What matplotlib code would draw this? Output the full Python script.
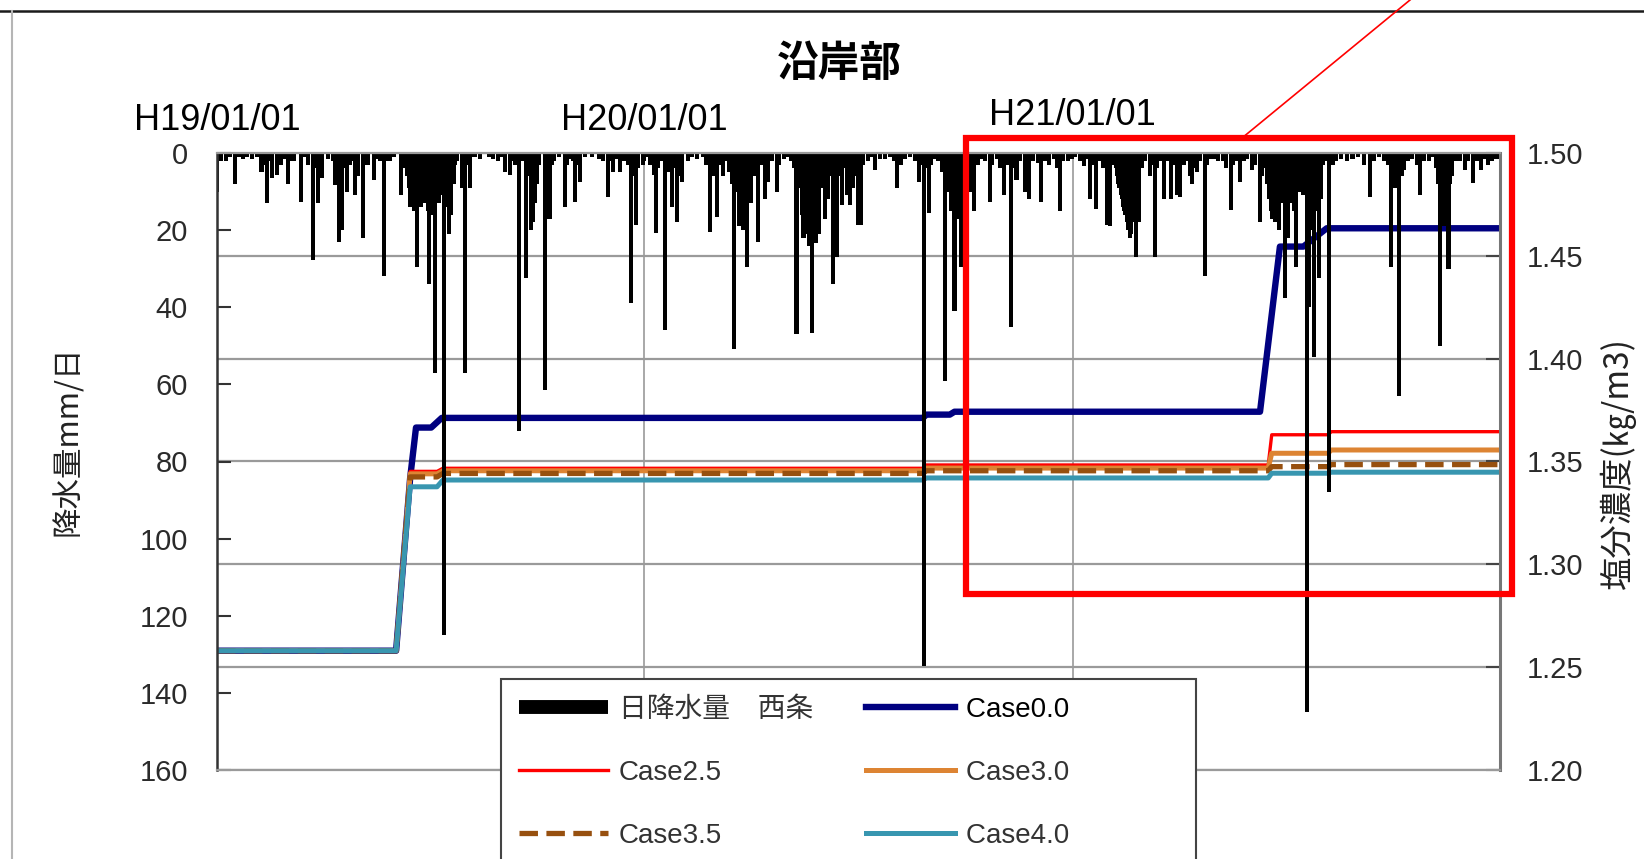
import numpy as np
import matplotlib.pyplot as plt
import matplotlib.dates as mdates
from matplotlib.lines import Line2D
from matplotlib.patches import Rectangle

plt.rcParams['font.family'] = ['Liberation Sans', 'Noto Sans CJK JP', 'DejaVu Sans']

# 日降水量 西条: (day of year, mm/day)
rain_2007 = [
    (1, 10), (4, 2), (9, 2), (12, 1), (16, 8), (20, 1), (23, 1.5), (27, 1), (31, 1.5), (35, 1),
    (39, 5), (41, 3), (44, 13), (46, 2), (48, 6.5), (52, 5.7), (56, 3), (59, 1.5), (62, 8), (64, 2),
    (67, 2), (73, 12.6), (76, 1), (79, 3), (83, 27.8), (85, 4), (87, 13), (89, 2), (91, 6.6), (96, 1.5),
    (100, 2), (102, 8.3), (105, 23), (108, 20), (109, 4), (112, 10), (115, 3), (117, 2), (119, 11), (121, 6),
    (126, 22), (128, 3), (130, 3), (135, 7), (137, 1.5), (140, 2), (144, 32), (146, 2), (149, 2), (152, 1),
    (158, 11), (159, 3), (161, 4), (163, 6), (164, 6), (165, 9), (166, 14), (167, 8), (168, 12), (169, 15),
    (170, 10), (171, 5), (172, 29.5), (173, 12), (174, 8), (175, 14), (176, 10), (177, 11), (178, 9), (179, 13),
    (180, 7), (181, 15), (182, 34), (183, 12), (184, 9), (185, 16), (186, 11), (187, 57), (188, 13), (189, 10),
    (190, 8), (191, 13), (192, 6), (193, 11), (194, 9), (195, 125), (196, 14), (197, 10), (198, 7), (199, 21),
    (200, 12), (201, 16), (202, 6), (203, 8), (204, 3), (206, 2), (210, 9), (213, 57), (215, 3), (217, 9),
    (221, 1), (226, 1.5), (233, 1), (237, 1.5), (241, 2), (244, 1), (247, 5), (251, 5.7), (254, 2), (256, 3),
    (259, 72), (261, 2), (263, 2), (265, 32.5), (267, 6), (269, 20), (270, 15), (271, 18), (272, 12), (273, 13),
    (274, 8), (276, 3), (281, 61.5), (283, 4), (285, 17), (287, 3), (289, 2), (293, 1), (298, 14), (300, 3),
    (302, 1.5), (305, 2), (307, 12.6), (309, 3), (311, 7.4), (315, 1), (321, 1), (327, 1.5), (331, 2), (335, 11.3),
    (337, 2), (339, 5), (342, 1.5), (345, 5), (349, 2), (352, 3), (355, 39), (357, 6), (359, 18.7), (361, 4),
    (365, 3),
]
rain_2008 = [
    (1, 2), (4, 1), (6, 3), (9, 5.7), (11, 20.8), (13, 4), (16, 2), (19, 46), (21, 5), (23, 3),
    (25, 14), (27, 4), (29, 18), (31, 6), (33, 7.4), (38, 2), (42, 1), (46, 1.5), (51, 1), (54, 3),
    (57, 20.4), (59, 4), (61, 6), (63, 16.5), (65, 3), (68, 6), (70, 2), (73, 5), (76, 8), (78, 50.7),
    (80, 10), (82, 19), (84, 7), (85, 20), (87, 9), (89, 29.5), (92, 13), (94, 4), (96, 6), (98, 23),
    (101, 3), (104, 11.8), (107, 7.4), (110, 2), (114, 10), (116, 3), (120, 1.5), (123, 1), (126, 2), (129, 4),
    (131, 47), (133, 5), (135, 9), (136, 16), (137, 22), (138, 12), (139, 18), (140, 21), (141, 9), (142, 24),
    (143, 15), (144, 46.8), (145, 11), (146, 17), (147, 8), (148, 23.4), (149, 6), (150, 21), (151, 7), (152, 9),
    (153, 4), (155, 17), (156, 5), (158, 12), (160, 6), (162, 34), (164, 5), (166, 27), (168, 6), (170, 13.5),
    (172, 4), (174, 11), (176, 5), (177, 13.5), (178, 8), (179, 9), (181, 6), (184, 18.7), (186, 18.7), (188, 3),
    (192, 2), (195, 1), (198, 4.4), (202, 1.5), (207, 1.5), (211, 1), (214, 2), (217, 9), (220, 3), (224, 1.5),
    (228, 1), (232, 2), (236, 7.4), (238, 3), (240, 133), (242, 4), (244, 15.6), (246, 3), (249, 1.5), (252, 2),
    (255, 5), (258, 59), (260, 10), (261, 8), (263, 15), (264, 9), (266, 41), (267, 12), (268, 17), (270, 8),
    (272, 29.5), (274, 12), (276, 20), (278, 6), (280, 10), (283, 15), (286, 3), (289, 1.5), (292, 2), (296, 12.6),
    (298, 3), (302, 1.5), (305, 4), (308, 11), (311, 3), (314, 45), (316, 4), (319, 7), (322, 2), (326, 10),
    (328, 3), (330, 12), (333, 2), (337, 2.5), (340, 12.6), (343, 2), (347, 3), (351, 1.5), (354, 4), (356, 15),
    (359, 2), (363, 2), (366, 1.5),
]
rain_2009 = [
    (3, 1), (7, 2), (11, 3.5), (14, 1.5), (16, 11.8), (18, 3), (21, 14.4), (24, 2), (27, 4), (30, 18.7),
    (32, 6), (33, 19), (35, 3), (38, 4), (39, 6), (40, 8), (41, 9), (42, 11), (43, 12), (44, 14),
    (45, 15), (46, 16), (47, 18), (48, 20), (49, 19), (50, 22), (51, 21), (52, 18), (53, 13), (55, 27),
    (56, 8), (58, 17.8), (60, 4), (63, 2), (67, 6), (69, 3), (71, 27), (73, 4), (76, 2), (79, 11.8),
    (82, 2), (85, 11.8), (88, 3), (90, 11), (93, 11.3), (96, 3), (99, 2), (101, 6), (103, 8), (105, 4),
    (107, 5), (110, 2), (114, 32), (116, 3), (119, 1.5), (122, 1.5), (125, 2), (129, 2), (132, 4), (136, 14.8),
    (138, 3), (141, 2), (144, 7.4), (147, 2), (150, 1.5), (154, 4.4), (157, 3), (161, 18), (163, 6), (165, 4),
    (167, 8), (169, 12), (170, 15), (171, 17), (172, 10), (173, 16), (174, 18), (175, 14), (176, 17), (177, 20),
    (178, 9), (180, 13), (182, 37.7), (183, 12), (185, 22), (186, 8), (188, 13), (190, 15), (192, 29.5), (193, 9),
    (195, 10), (196, 6), (197, 9), (198, 11), (199, 10), (200, 8), (201, 145), (202, 12), (203, 40), (204, 20),
    (205, 14), (206, 18), (207, 53), (208, 12), (209, 15), (210, 9), (211, 32.5), (212, 8), (213, 12), (215, 3),
    (217, 2), (220, 88), (223, 3), (226, 2), (230, 1.5), (235, 2), (240, 1.5), (245, 1), (250, 3), (255, 11.3),
    (258, 2), (263, 1), (267, 2), (270, 3), (273, 29.5), (275, 4), (276, 9), (278, 3), (280, 63), (282, 6),
    (284, 4.4), (287, 2), (291, 1.5), (295, 3), (298, 11), (301, 2), (305, 2), (308, 1), (311, 4), (313, 8),
    (315, 50), (316, 10), (318, 19), (320, 6), (322, 30), (323, 8), (325, 6), (328, 2), (332, 2), (336, 4.4),
    (339, 2), (343, 7.9), (346, 2), (350, 4.4), (353, 1.5), (356, 3), (359, 2), (363, 1.5),
]

# 塩分濃度 (kg/m3) breakpoints, days counted from 2007-01-01
case00_day = [0, 153, 165, 170, 183, 192, 603, 606, 626, 630, 891, 908, 928, 948, 1096]
case00_val = [1.258, 1.258, 1.342, 1.3665, 1.3665, 1.3712, 1.3712, 1.3728, 1.3728, 1.3742,
              1.3742, 1.4545, 1.4545, 1.4634, 1.4634]
step_day = [0, 153, 165, 188, 193, 603, 606, 898, 901, 949, 952, 1096]
case25_val = [1.258, 1.258, 1.3452, 1.3452, 1.3467, 1.3467, 1.3483, 1.3483, 1.3630, 1.3630, 1.3645, 1.3645]
case30_val = [1.258, 1.258, 1.3440, 1.3440, 1.3455, 1.3455, 1.3468, 1.3468, 1.3540, 1.3540, 1.3556, 1.3556]
case35_val = [1.258, 1.258, 1.3425, 1.3425, 1.3442, 1.3442, 1.3455, 1.3455, 1.3475, 1.3475, 1.3485, 1.3485]
case40_val = [1.258, 1.258, 1.3377, 1.3377, 1.3410, 1.3410, 1.3420, 1.3420, 1.3443, 1.3443, 1.3448, 1.3448]

year_ticks = ['2007-01-01', '2008-01-01', '2009-01-01', '2010-01-01']
year_labels = ['H19/01/01', 'H20/01/01', 'H21/01/01']
rain_ticks = [0, 20, 40, 60, 80, 100, 120, 140, 160]
salt_ticks = [1.20, 1.25, 1.30, 1.35, 1.40, 1.45, 1.50]

W, H = 1644, 859


def rain_series(year, pairs):
    start = np.datetime64(f'{year}-01-01')
    doy = np.array([p[0] for p in pairs])
    mm = np.array([p[1] for p in pairs], dtype=float)
    return mdates.date2num(start + (doy - 1).astype('timedelta64[D]')), mm


t0 = mdates.date2num(np.datetime64('2007-01-01'))
years = mdates.date2num(np.array(year_ticks, dtype='datetime64[D]'))

fig = plt.figure(figsize=(W / 100, H / 100), dpi=100)
fig.patch.set_facecolor('white')
ax = fig.add_axes([217 / W, 1 - 770 / H, 1283 / W, 617 / H])
ax2 = ax.twinx()

# salinity lines on the right axis, later cases drawn over earlier ones
ax2.set_ylim(1.20, 1.50)
ax2.set_yticks(salt_ticks)
ax2.set_yticklabels([f'{v:.2f}' for v in salt_ticks])
ax2.yaxis.grid(True, color='#9a9a9a', lw=1.6)
ax2.set_axisbelow(True)
for d in years[1:3]:
    ax2.axvline(d, color='#a8a8a8', lw=1.4, zorder=0.5)

l00, = ax2.plot(t0 + np.array(case00_day), case00_val, color='#000080', lw=4.6)
l25, = ax2.plot(t0 + np.array(step_day), case25_val, color='#ff0000', lw=2.4)
l30, = ax2.plot(t0 + np.array(step_day), case30_val, color='#dd8433', lw=3.6)
l35, = ax2.plot(t0 + np.array(step_day), case35_val, color='#97500f', lw=3.8, ls=(0, (3.5, 1.6)))
l40, = ax2.plot(t0 + np.array(step_day), case40_val, color='#3896b0', lw=3.6)

# daily rainfall hanging from the top of the left axis
for yr, pairs in ((2007, rain_2007), (2008, rain_2008), (2009, rain_2009)):
    x, mm = rain_series(yr, pairs)
    ax.bar(x, mm, width=3.5, color='black', linewidth=0)
ax.set_ylim(160, 0)
ax.set_yticks(rain_ticks)
ax.set_xlim(years[0], years[-1])
ax.set_xticks(years)
ax.set_xticklabels([])
ax.tick_params(axis='x', length=0)
ax.set_zorder(ax2.get_zorder() + 1)
ax.patch.set_visible(False)

ax.tick_params(axis='y', direction='in', length=10, width=1.5, color='#333333',
               labelsize=21, labelcolor='#2a2a2a', pad=21)
ax2.tick_params(axis='y', direction='in', length=10, width=1.5, color='#444444',
                labelsize=21, labelcolor='#2a2a2a', pad=19)

for name in ('top', 'bottom'):
    ax.spines[name].set_color('#9a9a9a')
    ax.spines[name].set_linewidth(1.6)
ax.spines['left'].set_color('#333333')
ax.spines['left'].set_linewidth(1.8)
ax.spines['right'].set_visible(False)
for name in ('top', 'bottom', 'left'):
    ax2.spines[name].set_visible(False)
ax2.spines['right'].set_color('#777777')
ax2.spines['right'].set_linewidth(2.2)

# era-date labels above the year gridlines
for d, lab, yy in zip(years[:3], year_labels, (1.053, 1.053, 1.061)):
    ax.text(d, yy, lab, transform=ax.get_xaxis_transform(), ha='center', va='center',
            fontsize=26, color='black')

fig.text(839 / W, 1 - 64 / H, '沿岸部', ha='center', va='center', fontsize=30,
         fontweight='bold', family=['Noto Sans CJK JP', 'DejaVu Sans'])
fig.text(68 / W, 1 - 441 / H, '降水量mm/日', rotation=90, ha='center', va='center',
         fontsize=22, color='#222222', family=['Noto Sans CJK JP', 'DejaVu Sans'])
fig.text(1618 / W, 1 - 463 / H, '塩分濃度(㎏/m3)', rotation=90, ha='center', va='center',
         fontsize=24, color='#222222', family=['Noto Sans CJK JP', 'DejaVu Sans'])

rain_handle = Line2D([], [], color='black', lw=10, solid_capstyle='butt')
handles = [rain_handle, l25, l35, l00, l30, l40]
pad = ' ' * 14
labels = ['日降水量\u3000西条', 'Case2.5', 'Case3.5', 'Case0.0' + pad, 'Case3.0' + pad, 'Case4.0' + pad]
leg = fig.legend(handles, labels, loc='upper left', bbox_to_anchor=(501 / W, 1 - 679 / H),
                 ncol=2, prop={'family': ['Liberation Sans', 'Noto Sans CJK JP'], 'size': 20},
                 handlelength=3.2, handletextpad=0.4, columnspacing=1.9, labelspacing=1.33,
                 borderpad=0.65, borderaxespad=0, fancybox=False, framealpha=1, edgecolor='#444444')
leg.get_frame().set_linewidth(1.5)
for t in leg.get_texts():
    t.set_color('#333333')
leg.get_texts()[3].set_color('black')

# highlight box and leader line
fig.add_artist(Rectangle((966 / W, 1 - 594 / H), (1512 - 966) / W, (594 - 138) / H,
                         transform=fig.transFigure, fill=False, ec='#ff0000', lw=4.5, zorder=10))
fig.add_artist(Line2D([1242 / W, 1410 / W], [1 - 138 / H, 1.0], transform=fig.transFigure,
                      color='#ff0000', lw=1.2, zorder=10))

# outer frame edges
fig.add_artist(Line2D([0, 1], [1 - 11 / H, 1 - 11 / H], transform=fig.transFigure,
                      color='#1a1a1a', lw=1.8))
fig.add_artist(Line2D([12 / W, 12 / W], [0, 1 - 11 / H], transform=fig.transFigure,
                      color='#b5b5b5', lw=1.5))

fig.savefig('out.png', dpi=100)
